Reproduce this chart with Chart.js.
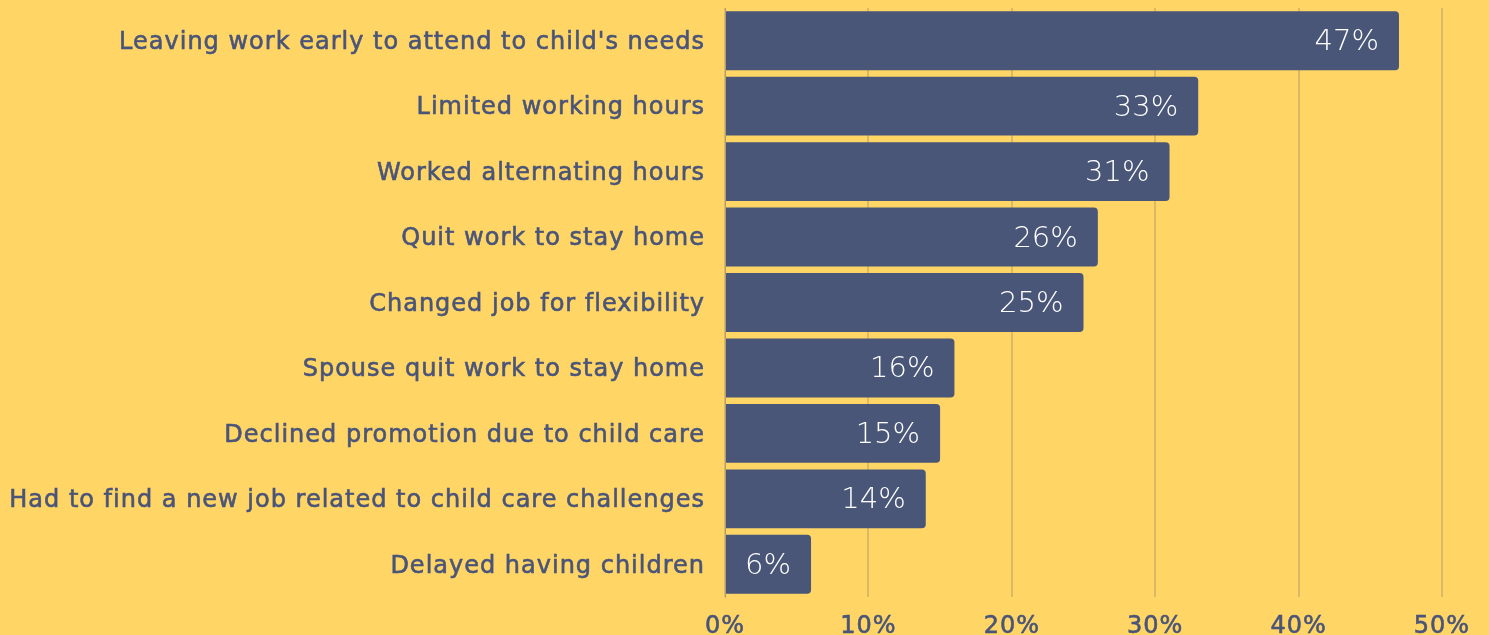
<!DOCTYPE html>
<html>
<head>
<meta charset="utf-8">
<script src="https://cdn.jsdelivr.net/npm/chart.js@4"></script>
<style>
html,body{margin:0;padding:0;background:#FFD666;}
#wrap{width:1489px;height:635px;position:relative;}
</style>
</head>
<body>
<div id="wrap"><canvas id="c" width="1489" height="635"></canvas></div>
<script>
const categories = [
  "Leaving work early to attend to child's needs",
  "Limited working hours",
  "Worked alternating hours",
  "Quit work to stay home",
  "Changed job for flexibility",
  "Spouse quit work to stay home",
  "Declined promotion due to child care",
  "Had to find a new job related to child care challenges",
  "Delayed having children"
];
const values = [47, 33, 31, 26, 25, 16, 15, 14, 6];
const tickValues = [0, 10, 20, 30, 40, 50];

const textColor = '#4A5478';
const barColor = '#495677';
const FONT = '"DejaVu Sans"';

const spacing = {
  id: 'spacing',
  beforeDraw(chart) { chart.ctx.letterSpacing = '1px'; },
  beforeLayout(chart) { chart.ctx.letterSpacing = '1px'; }
};

const valueLabels = {
  id: 'valueLabels',
  afterDatasetsDraw(chart) {
    const ctx = chart.ctx;
    const meta = chart.getDatasetMeta(0);
    ctx.save();
    ctx.letterSpacing = '0px';
    ctx.fillStyle = '#FFFFFF';
    ctx.font = '200 29px "DejaVu Sans"';
    ctx.textAlign = 'right';
    ctx.textBaseline = 'middle';
    meta.data.forEach((bar, i) => {
      ctx.fillText(values[i] + '%', bar.x - 20, bar.y + 2);
    });
    ctx.restore();
  }
};

new Chart(document.getElementById('c'), {
  type: 'bar',
  data: {
    labels: categories,
    datasets: [{
      data: values,
      backgroundColor: barColor,
      borderRadius: 4,
      borderSkipped: 'start',
      categoryPercentage: 0.9,
      barPercentage: 1.0
    }]
  },
  options: {
    indexAxis: 'y',
    responsive: false,
    animation: false,
    layout: { padding: { top: 8, right: 47, left: 0, bottom: 0 } },
    plugins: { legend: { display: false }, tooltip: { enabled: false } },
    scales: {
      x: {
        min: 0, max: 50,
        afterBuildTicks(scale) { scale.ticks = tickValues.map(v => ({ value: v })); },
        afterFit(scale) { scale.height = 38; scale.paddingLeft = 0; scale.paddingRight = 0; },
        ticks: {
          color: textColor,
          font: { family: FONT, size: 24 },
          padding: 15,
          maxRotation: 0,
          textStrokeColor: textColor,
          textStrokeWidth: 0.6,
          callback: (v) => v + '%'
        },
        grid: { color: 'rgba(175,150,100,0.45)', lineWidth: 2, drawTicks: false },
        border: { display: false }
      },
      y: {
        afterFit(scale) { scale.width = 725; scale.paddingTop = 0; scale.paddingBottom = 0; },
        ticks: {
          color: textColor,
          font: { family: FONT, size: 24 },
          padding: 20,
          labelOffset: 2,
          textStrokeColor: textColor,
          textStrokeWidth: 0.6
        },
        grid: { display: false, drawTicks: false },
        border: { display: true, color: 'rgba(150,140,120,0.6)', width: 1 }
      }
    }
  },
  plugins: [spacing, valueLabels]
});
</script>
</body>
</html>
